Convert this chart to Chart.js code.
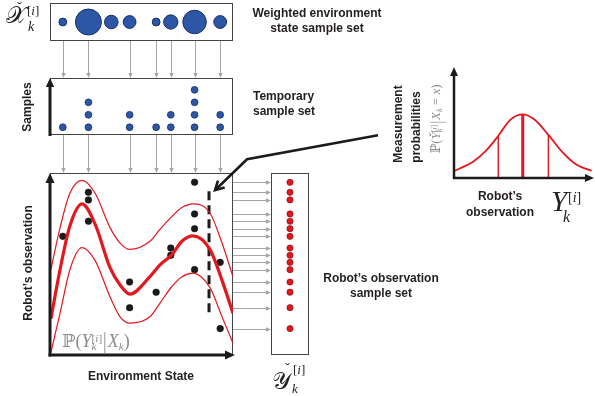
<!DOCTYPE html>
<html><head><meta charset="utf-8">
<script src="https://cdn.jsdelivr.net/npm/chart.js@4/dist/chart.umd.min.js"></script>
<style>
html,body{margin:0;padding:0;background:#fff;}
#stage{position:relative;width:595px;height:396px;overflow:hidden;background:#fff;font-family:"Liberation Sans",Arial,sans-serif;}
canvas{position:absolute;}
.t{position:absolute;font-weight:bold;font-size:12px;color:#231f20;white-space:nowrap;line-height:15px;}
.m{position:absolute;font-family:"Liberation Serif","DejaVu Serif",serif;color:#222;white-space:nowrap;line-height:1;}
.gray{color:#8c8c8c;}
.rot{transform:translate(-50%,-50%) rotate(-90deg);}
.sp{position:relative;top:-0.42em;font-size:0.62em;}
.sb{position:relative;top:0.28em;font-size:0.62em;display:inline-block;width:0;}
.sb2{position:relative;top:0.28em;font-size:0.62em;}
.bar{display:inline-block;transform:scaleY(1.35);margin:0 1px;}
</style></head>
<body><div id="stage">
<canvas id="cTop"></canvas>
<canvas id="cSmp"></canvas>
<canvas id="cObs"></canvas>
<canvas id="cInset"></canvas>
<canvas id="cMain"></canvas>

<div class="t" style="left:317px;top:6px;transform:translateX(-50%);text-align:center;">Weighted environment<br>state sample set</div>
<div class="t" style="left:253px;top:88.5px;">Temporary<br>sample set</div>
<div class="t rot" style="left:27px;top:107px;">Samples</div>
<div class="t rot" style="left:28px;top:263px;">Robot’s observation</div>
<div class="t" style="left:141px;top:368.5px;transform:translateX(-50%);">Environment State</div>
<div class="t" style="left:381px;top:270.5px;transform:translateX(-50%);text-align:center;">Robot’s observation<br>sample set</div>
<div class="t rot" style="left:398px;top:124px;">Measurement</div>
<div class="t rot" style="left:416px;top:127px;">probabilities</div>
<div class="t" style="left:500px;top:187.5px;transform:translateX(-50%);text-align:center;line-height:16px;">Robot’s<br>observation</div>

<div class="m gray" style="left:62px;top:332px;font-size:18px;">ℙ(<i>Y</i><span class="sb"><i>k</i></span><span class="sp">[<i>i</i>]</span><span class="bar">|</span><i>X</i><span class="sb2"><i>k</i></span>)</div>
<div class="m gray rot" style="left:436px;top:119px;font-size:13px;">ℙ(<i>Y̌</i><span class="sb"><i>k</i></span><span class="sp">[<i>i</i>]</span><span class="bar">|</span><i>X</i><span class="sb2"><i>k</i></span> = <i>x</i>)</div>

<div id="mathLayer"></div>
</div>
<script>
// ================= DATA =================
// Weighted environment state particles (state value on the "Environment State" axis, 0..10)
const particleState  = [0.7, 2.1, 3.35, 4.35, 5.8, 6.6, 7.9, 9.3];
// particle weights (relative)
const particleWeight = [0.03, 0.33, 0.09, 0.08, 0.03, 0.10, 0.27, 0.08];
// number of resampled copies of each particle (temporary sample set)
const sampleCount    = [1, 3, 0, 2, 1, 2, 4, 2];
// robot's observation drawn for each resampled particle, in particle order
const obsValue = [6.52, 7.35, 8.52, 8.94, 4.01, 2.60, 3.45, 5.88, 5.48, 9.49, 7.75, 6.94, 4.69, 5.09, 1.45];
// observation model P(Y|X): mean and band curves
const curveX = [0.05, 0.55, 1.09, 1.75, 2.46, 3.28, 3.83, 4.37, 5.46, 6.01, 6.65, 7.21, 7.81, 8.74, 9.4, 10.0];
const meanY  = [2.0, 4.7, 7.1, 8.3, 7.2, 4.8, 3.85, 3.35, 4.3, 4.95, 5.5, 6.25, 6.55, 5.8, 4.1, 2.3];
const upperY = [4.7, 7.0, 8.9, 9.6, 8.9, 7.0, 6.15, 5.8, 6.25, 6.9, 7.6, 8.1, 8.3, 7.8, 6.15, 4.3];
const lowerY = [0.15, 2.3, 4.7, 5.9, 5.2, 3.2, 2.1, 1.75, 2.1, 2.85, 3.75, 4.3, 4.5, 3.7, 2.1, 0.65];
// selected state x (dashed line) and its observation span
const selState = 8.69;
const selSpan  = [2.35, 9.0];
// measurement probability curve P(Y|X=x)
const insetY = [0.07, 1.38, 2.34, 3.16, 4.0, 4.91, 5.79, 6.74, 7.81, 8.76, 9.84];
const insetP = [0.065, 0.149, 0.254, 0.379, 0.522, 0.573, 0.522, 0.388, 0.224, 0.119, 0.065];
const markY  = [3.16, 4.91, 6.74];
const markP  = [0.379, 0.573, 0.388];

// ================= STYLE / LAYOUT =================
const RED = '#e3171e', BLUE = '#2e56a6', NAVY = '#142f66', GRAY = '#a6a6a6', INK = '#1b1b1b', FRAME = '#444';
const L = {
  top:   {left:50, top:3,   w:183, h:38},
  smp:   {left:50, top:78,  w:183, h:57},
  obs:   {left:271, top:173, w:38, h:182},
  inset: {left:440, top:55, w:155, h:130, pad:{left:14, top:12, right:1, bottom:7}},
  main:  {left:0, top:0, w:595, h:396, pad:{left:50, top:173, right:362, bottom:41}}
};

function mk(id, b){
  const c = document.getElementById(id);
  c.width = b.w; c.height = b.h;
  c.style.left = b.left+'px'; c.style.top = b.top+'px';
  c.style.width = b.w+'px'; c.style.height = b.h+'px';
  return c;
}
function base(xmin,xmax,ymin,ymax,pad){
  return {responsive:false, animation:false, devicePixelRatio:1, events:[],
    layout:{padding:pad||0, autoPadding:false},
    plugins:{legend:{display:false}, tooltip:{enabled:false}, title:{display:false}},
    scales:{x:{type:'linear',min:xmin,max:xmax,display:false},
            y:{type:'linear',min:ymin,max:ymax,display:false}}};
}
function head(g,x,y,ang,len,half,color){
  g.save(); g.translate(x,y); g.rotate(ang);
  g.beginPath(); g.moveTo(0,0); g.lineTo(-len,-half); g.lineTo(-len,half); g.closePath();
  g.fillStyle=color; g.fill(); g.restore();
}
function arrow(g,x1,y1,x2,y2,color,lw,len,half){
  const a = Math.atan2(y2-y1,x2-x1);
  g.save(); g.beginPath(); g.moveTo(x1,y1);
  g.lineTo(x2-Math.cos(a)*len*0.7, y2-Math.sin(a)*len*0.7);
  g.strokeStyle=color; g.lineWidth=lw; g.lineCap='butt'; g.stroke(); g.restore();
  head(g,x2,y2,a,len,half,color);
}

// ---------- weighted particle set ----------
const wMax = Math.max(...particleWeight);
const topChart = new Chart(mk('cTop', L.top), {
  type:'bubble',
  data:{datasets:[{
    data: particleState.map((s,i)=>({x:s, y:0.5, r: 13*Math.sqrt(particleWeight[i]/wMax)})),
    backgroundColor:BLUE, borderColor:NAVY, borderWidth:1, clip:false
  }]},
  options: base(0,10,0,1)
});

// ---------- temporary sample set ----------
const samplePts = [];
particleState.forEach((s,i)=>{ for(let j=1;j<=sampleCount[i];j++) samplePts.push({x:s, y:j}); });
const smpChart = new Chart(mk('cSmp', L.smp), {
  type:'scatter',
  data:{datasets:[{data:samplePts, pointRadius:3.4, backgroundColor:BLUE, borderColor:NAVY, borderWidth:0.8, clip:false}]},
  options: base(0,10,0.38,4.95)
});

// ---------- observation sample set ----------
const obsChart = new Chart(mk('cObs', L.obs), {
  type:'scatter',
  data:{datasets:[{data: obsValue.map(v=>({x:0.5, y:v})), pointRadius:3.1, backgroundColor:RED, borderColor:'#8e0c10', borderWidth:0.7, clip:false}]},
  options: base(0,1,0,10)
});

// ---------- inset: measurement probabilities ----------
const insetChart = new Chart(mk('cInset', L.inset), {
  type:'line',
  data:{datasets:[
    {data: insetY.map((x,i)=>({x, y:insetP[i]})), borderColor:RED, borderWidth:1.8, pointRadius:0, cubicInterpolationMode:'monotone', fill:false},
    ...markY.map((x,i)=>({data:[{x, y:0},{x, y:markP[i]}], borderColor:RED, borderWidth: i===1?3:1.4, pointRadius:0}))
  ]},
  options: base(0,10,0,1,L.inset.pad),
  plugins:[{id:'insetAxes', afterDraw(ch){
    const g=ch.ctx, a=ch.chartArea;
    arrow(g, a.left, a.bottom+1, a.left, a.top, INK, 2.5, 9, 4);
    arrow(g, a.left-1, a.bottom, a.right, a.bottom, INK, 2.5, 9, 4);
  }}]
});

// ---------- main chart ----------
const absArea = ch => ({left: ch.canvas.offsetLeft+ch.chartArea.left, right: ch.canvas.offsetLeft+ch.chartArea.right,
                        top: ch.canvas.offsetTop+ch.chartArea.top, bottom: ch.canvas.offsetTop+ch.chartArea.bottom});
const obsState = [];
particleState.forEach((s,i)=>{ for(let j=0;j<sampleCount[i];j++) obsState.push(s); });

const mainChart = new Chart(mk('cMain', L.main), {
  type:'line',
  data:{datasets:[
    {data: curveX.map((x,i)=>({x, y:upperY[i]})), borderColor:RED, borderWidth:1.2, pointRadius:0, cubicInterpolationMode:'monotone', fill:false},
    {data: curveX.map((x,i)=>({x, y:lowerY[i]})), borderColor:RED, borderWidth:1.2, pointRadius:0, cubicInterpolationMode:'monotone', fill:false},
    {data: curveX.map((x,i)=>({x, y:meanY[i]})),  borderColor:RED, borderWidth:3.2, pointRadius:0, cubicInterpolationMode:'monotone', fill:false},
    {data: [{x:selState, y:selSpan[0]},{x:selState, y:selSpan[1]}], borderColor:INK, borderWidth:3, borderDash:[9,5], pointRadius:0},
    {type:'scatter', data: obsValue.map((v,i)=>({x:obsState[i], y:v})), pointRadius:3.3, backgroundColor:INK, borderColor:'#000', borderWidth:0.5, showLine:false}
  ]},
  options: base(0,10,0,10,L.main.pad),
  plugins:[{id:'overlay',
    beforeDatasetsDraw(ch){
      const g=ch.ctx, xs=ch.scales.x, ys=ch.scales.y, a=ch.chartArea;
      const T=absArea(topChart), S=absArea(smpChart), O=absArea(obsChart);
      g.save();
      g.strokeStyle=FRAME; g.lineWidth=1;
      g.strokeRect(T.left+0.5, T.top+0.5, T.right-T.left-1, T.bottom-T.top-1);
      g.strokeRect(S.left+0.5, S.top+0.5, S.right-S.left-1, S.bottom-S.top-1);
      g.strokeRect(O.left+0.5, O.top+0.5, O.right-O.left-1, O.bottom-O.top-1);
      g.strokeRect(a.left+0.5, a.top+0.5, a.right-a.left-1, a.bottom-a.top-1);
      g.restore();
      particleState.forEach((s,i)=>{
        if(sampleCount[i]===0) return;
        const px = Math.round(xs.getPixelForValue(s))+0.5;
        arrow(g, px, T.bottom, px, S.top, GRAY, 1, 5, 2.2);
        arrow(g, px, S.bottom, px, a.top, GRAY, 1, 5, 2.2);
      });
      obsValue.forEach(v=>{
        const py = Math.round(ys.getPixelForValue(v))+0.5;
        arrow(g, a.right, py, O.left, py, GRAY, 1, 5, 2.2);
      });
    },
    afterDatasetsDraw(ch){
      const g=ch.ctx, xs=ch.scales.x, ys=ch.scales.y, a=ch.chartArea;
      const S=absArea(smpChart);
      arrow(g, a.left, a.bottom+1.5, a.left, a.top, INK, 3, 10, 4.5);
      arrow(g, a.left-1.5, a.bottom, a.right+2, a.bottom, INK, 3, 10, 4.5);
      arrow(g, S.left, S.bottom+1, S.left, S.top, INK, 3, 9, 4.2);
      const tx = xs.getPixelForValue(selState), ty = ys.getPixelForValue(selSpan[1]);
      const tip = [tx+6, ty-1], knee=[tx+38, ty-32], start=[tx+169, ty-56];
      g.save(); g.strokeStyle=INK; g.lineWidth=2.6; g.lineJoin='miter';
      g.beginPath(); g.moveTo(start[0],start[1]); g.lineTo(knee[0],knee[1]); g.lineTo(tip[0],tip[1]); g.stroke();
      const ang = Math.atan2(tip[1]-knee[1], tip[0]-knee[0]);
      g.beginPath();
      g.moveTo(tip[0]-10*Math.cos(ang-0.5), tip[1]-10*Math.sin(ang-0.5));
      g.lineTo(tip[0],tip[1]);
      g.lineTo(tip[0]-10*Math.cos(ang+0.5), tip[1]-10*Math.sin(ang+0.5));
      g.stroke(); g.restore();
    }
  }]
});

// ================= math labels (real text, absolutely placed) =================
const ML = document.getElementById('mathLayer');
function piece(txt, x, baseline, size){
  const d = document.createElement('div');
  d.className = 'm'; d.innerHTML = txt;
  d.style.left = x+'px'; d.style.top = (baseline - 0.8375*size)+'px'; d.style.fontSize = size+'px';
  ML.appendChild(d);
}
piece('𝒳', 6, 23, 24);
piece('ˇ', 17, 13, 15);
piece('[<i>i</i>]', 27, 15, 13);
piece('<i>k</i>', 28, 32, 14);
piece('𝒴', 272, 389, 24);
piece('ˇ', 285, 374, 15);
piece('[<i>i</i>]', 293, 374, 13);
piece('<i>k</i>', 292, 393, 13);
piece('<i>Y</i>', 551, 211, 29);
piece('[<i>i</i>]', 568, 203, 14);
piece('<i>k</i>', 563, 222, 16);
</script>
</body></html>
